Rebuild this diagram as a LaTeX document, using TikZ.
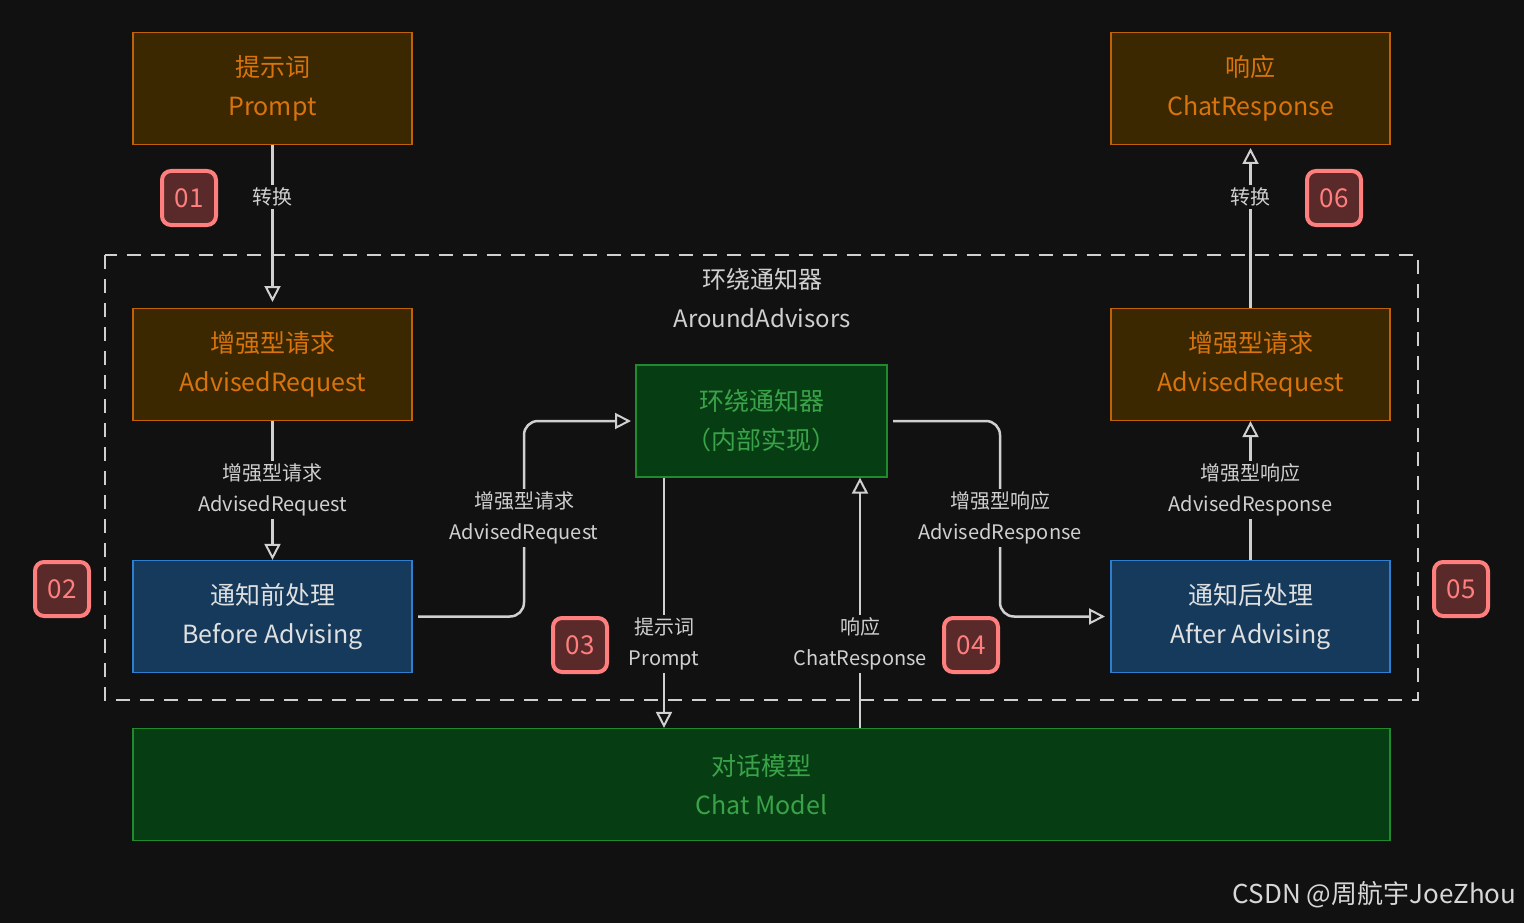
\documentclass[tikz,border=0pt]{standalone}
\usepackage{fontspec}
\setmainfont{Noto Sans CJK SC}
\usetikzlibrary{arrows.meta}
\definecolor{bg}{HTML}{111111}
\definecolor{ln}{HTML}{D0D0D0}
\definecolor{ofill}{HTML}{3B2800}\definecolor{odraw}{HTML}{C0620A}\definecolor{otext}{HTML}{D9730D}
\definecolor{bfill}{HTML}{153A5C}\definecolor{bdraw}{HTML}{2E7FD0}\definecolor{btext}{HTML}{E0E0E0}
\definecolor{gfill}{HTML}{073D12}\definecolor{gdraw}{HTML}{1F8A2E}\definecolor{gtext}{HTML}{3AA34A}
\definecolor{kfill}{HTML}{5A2A2A}\definecolor{kdraw}{HTML}{FF7F7F}
\begin{document}
\begin{tikzpicture}[x=1pt,y=-1pt,
 box/.style={draw,line width=1.2pt,minimum width=279pt,minimum height=112pt,align=center,inner sep=0pt,font=\fontsize{25}{39}\selectfont},
 ob/.style={box,fill=ofill,draw=odraw,text=otext},
 bb/.style={box,fill=bfill,draw=bdraw,text=btext},
 gb/.style={box,fill=gfill,draw=gdraw,text=gtext},
 badge/.style={draw=kdraw,fill=kfill,text=kdraw,line width=4pt,rounded corners=9pt,minimum size=54pt,inner sep=0pt,font=\fontsize{26}{26}\selectfont},
 lab/.style={text=ln,fill=bg,align=center,inner sep=3pt,font=\fontsize{20}{31}\selectfont},
 con/.style={draw=ln,line width=2.5pt,-{Triangle[open,length=16pt,width=16pt,line width=2pt]}},
 plain/.style={draw=ln,line width=2.5pt}]
\fill[bg] (0,0) rectangle (1524,923);
\useasboundingbox (0,0) rectangle (1524,923);
\draw[ln,line width=2pt,dash pattern=on 14pt off 10pt] (105,255) rectangle (1418,700);
\node[text=ln,align=center,font=\fontsize{24}{39}\selectfont] (title) at (762,298) {环绕通知器\\AroundAdvisors};
\node[ob] (p) at (272.5,88.5) {提示词\\Prompt};
\node[ob] (cr) at (1250.5,88.5) {响应\\ChatResponse};
\node[ob] (arl) at (272.5,364.5) {增强型请求\\AdvisedRequest};
\node[ob] (arr) at (1250.5,364.5) {增强型请求\\AdvisedRequest};
\node[gb,minimum width=251pt] (in) at (761.5,421) {环绕通知器\\（内部实现）};
\node[bb] (bef) at (272.5,616.5) {通知前处理\\Before Advising};
\node[bb] (aft) at (1250.5,616.5) {通知后处理\\After Advising};
\node[gb,minimum width=1257pt] (cm) at (761.5,784.5) {对话模型\\Chat Model};
\coordinate (t1) at (272.5,302);
\draw[con] (p.south) -- (t1);
\node[lab] at (272.5,197) {转换};
\coordinate (t2) at (1250.5,148);
\draw[con] (arr.north) -- (t2);
\node[lab] at (1250.5,197) {转换};
\draw[con] (arl.south) -- (bef.north);
\node[lab] at (272.5,490) {增强型请求\\AdvisedRequest};
\draw[con] (aft.north) -- (arr.south);
\node[lab] at (1250.5,490) {增强型响应\\AdvisedResponse};
\coordinate (a1) at (418,616.5); \coordinate (a2) at (631,421);
\draw[con,rounded corners=14pt] (a1) -- (524,616.5) -- (524,421) -- (a2);
\node[lab] at (524,518) {增强型请求\\AdvisedRequest};
\coordinate (b1) at (893,421); \coordinate (b2) at (1105,616.5);
\draw[con,rounded corners=14pt] (b1) -- (1000,421) -- (1000,616.5) -- (b2);
\node[lab] at (1000,518) {增强型响应\\AdvisedResponse};
\draw[con] (in.south -| 664,0) -- (cm.north -| 664,0);
\node[lab] at (664,644) {提示词\\Prompt};
\draw[con] (cm.north -| 860,0) -- (in.south -| 860,0);
\node[lab] at (860,644) {响应\\ChatResponse};
\node[badge] (n1) at (189,198) {01};
\node[badge] (n2) at (62,589) {02};
\node[badge] (n3) at (580,645) {03};
\node[badge] (n4) at (971,645) {04};
\node[badge] (n5) at (1461,589) {05};
\node[badge] (n6) at (1334,198) {06};
\node[text=ln!85,anchor=east,font=\fontsize{26}{26}\selectfont] (wm) at (1520,895) {CSDN @周航宇JoeZhou};
\end{tikzpicture}
\end{document}
